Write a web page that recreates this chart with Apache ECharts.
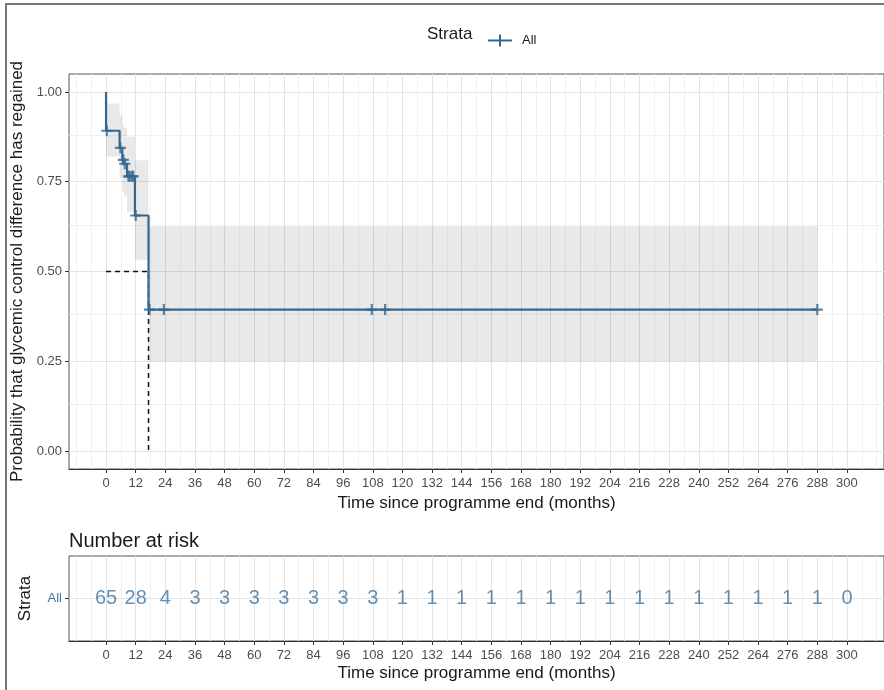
<!DOCTYPE html>
<html><head><meta charset="utf-8">
<script src="https://cdn.jsdelivr.net/npm/echarts@6/dist/echarts.min.js"></script>
<style>html,body{margin:0;padding:0;background:#fff}#c{width:884px;height:690px}</style>
</head><body><div id="c"></div>
<script>
// ---- tick labels / breaks ----
const xBreaks = [0,12,24,36,48,60,72,84,96,108,120,132,144,156,168,180,192,204,216,228,240,252,264,276,288,300];
const xMinor = [-12,-6,6,18,30,42,54,66,78,90,102,114,126,138,150,162,174,186,198,210,222,234,246,258,270,282,294,306,312];
const yBreaks = [0,0.25,0.5,0.75,1];
const yMinor = [0.125,0.375,0.625,0.875];

// ---- Kaplan-Meier estimate ----
const kmTime = [0, 0, 5.5, 6.6, 7.3, 8.5, 11.7, 17.2, 288];
const kmSurv = [1.0, 0.892, 0.844, 0.811, 0.80, 0.765, 0.656, 0.394, 0.394];
const censorTime = [0.3, 5.8, 7.0, 7.6, 9.1, 9.6, 10.5, 11.0, 12.0, 17.6, 23.4, 107.6, 113, 288];
const censorSurv = [0.892, 0.844, 0.811, 0.80, 0.765, 0.765, 0.765, 0.765, 0.656, 0.394, 0.394, 0.394, 0.394, 0.394];

// ---- confidence band ----
const ciTime  = [0, 5.5, 6.6, 7.3, 8.5, 11.7, 17.2, 288];
const ciLower = [0.82, 0.76, 0.72, 0.71, 0.665, 0.533, 0.25, 0.25];
const ciUpper = [0.968, 0.935, 0.91, 0.90, 0.875, 0.81, 0.626, 0.626];

// ---- median ----
const medianTime = 17.2;
const medianSurv = 0.5;

// ---- number at risk ----
const riskTime = xBreaks;
const riskN = [65,28,4,3,3,3,3,3,3,3,1,1,1,1,1,1,1,1,1,1,1,1,1,1,1,0];
const strata = ['All'];

const LINE = '#33678f';
const TXTBLUE = '#3f74a3';
const GRIDMAJ = '#e4e4e4';
const GRIDMIN = '#f1f1f1';
const FONT = 'Liberation Sans, Arial, sans-serif';

// step-function vertices (horizontal then vertical)
function stepPoints(ts, vs) {
  const out = [];
  for (let i = 0; i < ts.length; i++) {
    if (i > 0) out.push([ts[i], vs[i - 1]]);
    out.push([ts[i], vs[i]]);
  }
  return out;
}

const chart = echarts.init(document.getElementById('c'), null, {renderer:'canvas'});

function gridLines(xi, yi, xs, ys, color, name) {
  const data = [];
  xs.forEach(v => data.push({xAxis: v}));
  ys.forEach(v => data.push({yAxis: v}));
  return {
    name: name, type: 'scatter', xAxisIndex: xi, yAxisIndex: yi, data: [], silent: true, z: 1,
    markLine: { silent: true, z: 1, symbol: ['none','none'], label: {show:false}, animation: false,
      lineStyle: {color: color, width: 1, type: 'solid'}, emphasis: {disabled: true}, data: data }
  };
}

const xAxisBase = (gi) => ({
  type: 'value', gridIndex: gi, min: -15, max: 315,
  axisLine: {show: true, onZero: false, lineStyle: {color: '#333', width: 1}},
  axisTick: {show: true, customValues: xBreaks, length: 4, lineStyle: {color: '#333'}},
  axisLabel: {customValues: xBreaks, color: '#4d4d4d', fontSize: 13, margin: 8, fontFamily: FONT},
  splitLine: {show: false},
  name: 'Time since programme end (months)', nameLocation: 'middle', nameGap: 24,
  nameTextStyle: {fontSize: 17, color: '#1a1a1a', fontFamily: FONT}
});

const option = {
  animation: false,
  backgroundColor: '#fff',
  title: [{
    text: 'Number at risk', left: 64, top: 526,
    textStyle: {fontSize: 20, fontWeight: 'normal', color: '#1a1a1a', fontFamily: FONT}
  }],
  legend: {
    show: true, left: 483, top: 29, itemWidth: 24, itemHeight: 12,
    data: [{name: 'All', icon: 'path://M0,9H24V11H0Z M11,4H13V16H11Z'}],
    textStyle: {fontSize: 13, color: '#1a1a1a', padding: [0,0,0,5], fontFamily: FONT},
    selectedMode: false
  },
  graphic: [
    {type: 'text', left: 427, top: 26, style: {text: 'Strata', fontSize: 17, fill: '#1a1a1a', fontFamily: FONT}},
    {type: 'polyline', shape: {points: [[6,690],[6,4],[884,4]]}, style: {stroke: '#777', lineWidth: 2, fill: null}}
  ],
  grid: [
    {left: 69, top: 74, width: 820, height: 395, show: true, borderColor: '#555', borderWidth: 1, backgroundColor: 'transparent'},
    {left: 69, top: 556, width: 820, height: 85, show: true, borderColor: '#555', borderWidth: 1, backgroundColor: 'transparent'}
  ],
  xAxis: [xAxisBase(0), xAxisBase(1)],
  yAxis: [
    {
      type: 'value', gridIndex: 0, min: -0.05, max: 1.05,
      axisLine: {show: false, onZero: false},
      axisTick: {show: true, customValues: yBreaks, length: 4, lineStyle: {color: '#333'}},
      axisLabel: {customValues: yBreaks, formatter: v => v.toFixed(2), color: '#4d4d4d', fontSize: 13, margin: 7, fontFamily: FONT},
      splitLine: {show: false},
      name: 'Probability that glycemic control difference has regained', nameLocation: 'middle', nameGap: 35,
      nameTextStyle: {fontSize: 17, color: '#1a1a1a', fontFamily: FONT}
    },
    {
      type: 'category', gridIndex: 1, data: strata,
      axisLine: {show: false, onZero: false},
      axisTick: {show: true, alignWithLabel: true, length: 4, lineStyle: {color: '#333'}},
      axisLabel: {color: TXTBLUE, fontSize: 13, margin: 7, fontFamily: FONT},
      splitLine: {show: false},
      name: 'Strata', nameLocation: 'middle', nameGap: 35,
      nameTextStyle: {fontSize: 17, color: '#1a1a1a', fontFamily: FONT}
    }
  ],
  series: [
    gridLines(0, 0, xMinor, yMinor, GRIDMIN, 'gmin0'),
    gridLines(0, 0, xBreaks, yBreaks, GRIDMAJ, 'gmaj0'),
    gridLines(1, 1, xMinor, [], GRIDMIN, 'gmin1'),
    gridLines(1, 1, xBreaks, ['All'], GRIDMAJ, 'gmaj1'),
    {
      name: 'ci', type: 'custom', xAxisIndex: 0, yAxisIndex: 0, z: 2, silent: true,
      data: ciTime.map((t, i) => [t, ciLower[i], ciUpper[i]]),
      renderItem: function (params, api) {
        if (params.dataIndex !== 0) return null;
        const up = stepPoints(ciTime, ciUpper).map(p => api.coord(p));
        const lo = stepPoints(ciTime, ciLower).map(p => api.coord(p)).reverse();
        return {type: 'polygon', shape: {points: up.concat(lo)},
                style: {fill: 'rgba(0,0,0,0.085)', stroke: null}};
      }
    },
    {
      name: 'median', type: 'line', xAxisIndex: 0, yAxisIndex: 0, z: 3, symbol: 'none', silent: true,
      lineStyle: {color: '#111', width: 1.5, type: [5, 4]},
      data: [[0, medianSurv], [medianTime, medianSurv], [medianTime, 0]]
    },
    {
      name: 'All', type: 'line', xAxisIndex: 0, yAxisIndex: 0, z: 4,
      symbol: 'none', color: LINE, lineStyle: {color: LINE, width: 2.2},
      data: stepPoints(kmTime, kmSurv)
    },
    {
      name: 'censor', type: 'scatter', xAxisIndex: 0, yAxisIndex: 0, z: 5, silent: true,
      symbol: 'path://M4,0H6V10H4Z M0,4H10V6H0Z', symbolSize: 11,
      itemStyle: {color: LINE},
      data: censorTime.map((t, i) => [t, censorSurv[i]])
    },
    {
      name: 'risk', type: 'scatter', xAxisIndex: 1, yAxisIndex: 1, z: 5, silent: true,
      symbolSize: 0,
      label: {show: true, position: 'inside', formatter: p => String(p.value[2]), fontSize: 20, color: TXTBLUE, fontFamily: FONT},
      data: riskTime.map((t, i) => [t, strata[0], riskN[i]])
    }
  ]
};
chart.setOption(option);
</script></body></html>
